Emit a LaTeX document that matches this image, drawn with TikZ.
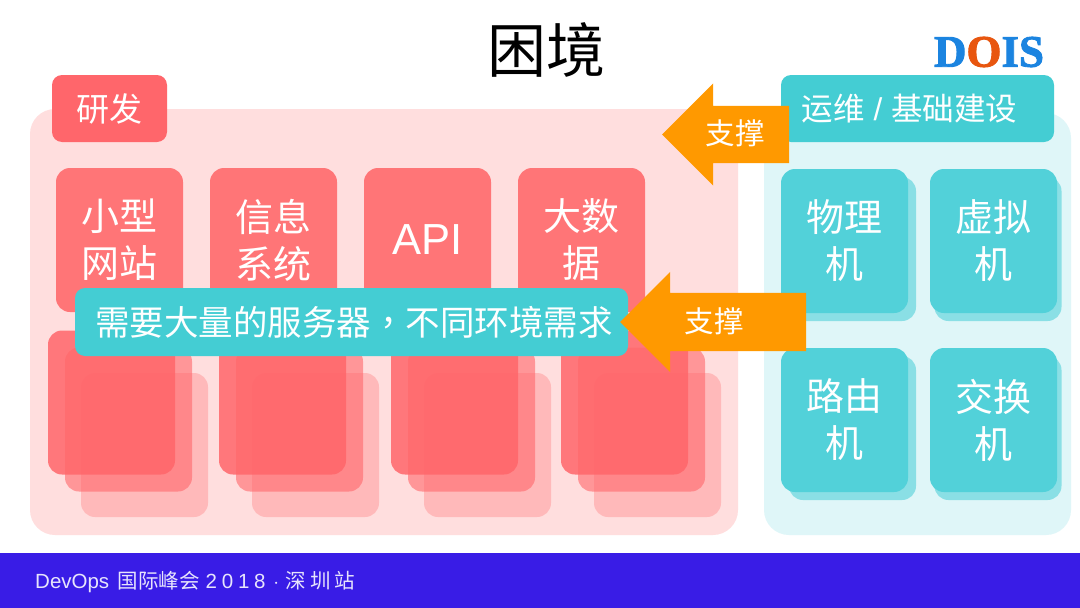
\documentclass[tikz,border=0pt]{standalone}
\usepackage{fontspec}
\setmainfont{Liberation Sans}
\newfontfamily\cjk{Noto Sans CJK SC}
\newfontfamily\cjktc{Noto Sans CJK TC}
\newfontfamily\logofont{Liberation Serif Bold}[FakeBold=2]
\usetikzlibrary{positioning}
\usetikzlibrary{shapes.arrows}

\definecolor{panelRed}{HTML}{FFDEDE}
\definecolor{panelTeal}{HTML}{DFF6F8}
\definecolor{cardRed}{HTML}{FF7577}
\definecolor{labelRed}{HTML}{FF666B}
\definecolor{stackRed}{HTML}{FF666A}
\definecolor{barTeal}{HTML}{44CDD3}
\definecolor{cardTeal}{HTML}{52D1D9}
\definecolor{arrowOrange}{HTML}{FF9900}
\definecolor{footerBlue}{HTML}{391CE6}
\definecolor{logoBlue}{HTML}{1B84E0}
\definecolor{logoOrange}{HTML}{E8560F}

\begin{document}
\begin{tikzpicture}[
  x=1pt, y=-1pt,
  box/.style={rectangle, rounded corners=#1, inner sep=0pt, text=white, align=center},
  box/.default=14pt,
  panelBox/.style 2 args={box=25pt, fill=#1, minimum width=#2},
  cardBox/.style={box, fill=cardRed, minimum width=127pt, minimum height=144pt,
    font=\fontsize{38}{47}\selectfont},
  tealCard/.style={box, fill=cardTeal, minimum width=127pt, minimum height=144pt,
    font=\fontsize{38}{47}\selectfont},
  tealShadow/.style={box, fill=cardTeal, fill opacity=0.6, minimum width=127pt, minimum height=144pt},
  stackBox/.style={box, fill=stackRed, minimum width=127pt, minimum height=144pt},
  supportArrow/.style={single arrow, fill=arrowOrange, inner xsep=0pt, outer sep=0pt,
    shape border rotate=180, single arrow tip angle=90, anchor=tail},
  supportText/.style={text=white, inner sep=0pt, font=\fontsize{29.5}{30}\selectfont\cjk},
]
\useasboundingbox (0,0) rectangle (1080,608);
\fill[white] (0,0) rectangle (1080,608);

% --- Title and logo ---
\node [inner sep=0pt, font=\fontsize{59}{60}\selectfont\cjk] (titleText) at (546,50) {困境};
\node [inner sep=0pt, font=\fontsize{45}{45}\selectfont\logofont] (logoText) at (989,52)
  {\textcolor{logoBlue}{D}\textcolor{logoOrange}{O}\textcolor{logoBlue}{IS}};

% --- Panels ---
\node [panelBox={panelRed}{708pt}, minimum height=426pt] (devPanel) at (384,322) {};
\node [panelBox={panelTeal}{307pt}, minimum height=422pt] (opsPanel) at (917.5,324) {};

\node [box=10pt, fill=labelRed, minimum width=115pt, minimum height=67pt,
  font=\fontsize{33}{33}\selectfont\cjk] (devLabel) at (109.5,108.5) {研发};
\node [box=10pt, fill=barTeal, minimum width=273pt, minimum height=67pt] (opsLabel) at (917.5,108.5) {};
\node [inner sep=0pt, text=white, font=\fontsize{31.5}{33}\selectfont] (opsLabelText) at (909.5,108.5)
  {{\cjk 运维} / {\cjk 基础建设}};

% --- Top row of cards ---
\node [cardBox, font=\fontsize{38}{47}\selectfont\cjk] (cardSite) at (119.5,240) {小型\\网站};
\node [cardBox, font=\fontsize{38}{47}\selectfont\cjk] (cardInfo) at (273.5,240) {信息\\系统};
\node [cardBox, font=\fontsize{43.5}{47}\selectfont] (cardApi) at (427.5,240) {\raisebox{-1.5pt}{API}};
\node [cardBox, font=\fontsize{38}{47}\selectfont\cjk] (cardData) at (581.5,240) {大数\\据};

% --- Server stacks ---
\foreach \idx/\xpos in {1/48,2/219,3/391,4/561} {
  \node [stackBox, fill opacity=0.3] (stackBack\idx) at (\xpos+96.5,445) {};
  \node [stackBox, fill opacity=0.6] (stackMid\idx) at (\xpos+80.5,419.5) {};
  \node [stackBox, fill opacity=0.85] (stackFront\idx) at (\xpos+63.5,402.5) {};
}

\node [box=10pt, fill=barTeal, minimum width=553pt, minimum height=68pt,
  font=\fontsize{34.5}{36}\selectfont\cjk] (needBar) at (351.5,322)
  {\hspace{5pt}需要大量的服务器{\cjktc ，}不同环境需求};

% --- Teal cards ---
\foreach \name/\xpos/\ypos/\off/\txt in {Phys/781/169/8/物理\\机,Virt/930/169/4.5/虚拟\\机,
  Router/781/348/8/路由\\机,Switch/930/348/4.5/交换\\机} {
  \node [tealShadow] (shadow\name) at (\xpos+63.5+\off,\ypos+80) {};
  \node [tealCard, font=\fontsize{38}{47}\selectfont\cjk] (card\name) at (\xpos+63.5,\ypos+72) {\txt};
}

% --- Arrows ---
\node [supportArrow, minimum height=127pt, inner ysep=28.5pt, single arrow head extend=22.5pt]
  (arrowOps) at (789,134.5) {};
\node [supportText] (arrowOpsText) at (735,133) {支撑};
\node [supportArrow, minimum height=186pt, inner ysep=29pt, single arrow head extend=21pt]
  (arrowNeed) at (806,322) {};
\node [supportText] (arrowNeedText) at (714,321) {支撑};

% --- Footer ---
\fill [footerBlue] (0,553) rectangle (1080,608);
\node [anchor=west, inner sep=0pt, text=white!88!footerBlue, font=\fontsize{20.5}{20}\selectfont]
  (footerText) at (35,582.5) {DevOps\hspace{3pt} {\cjk 国际峰会} 2\hspace{4.8pt}0\hspace{4.8pt}1\hspace{4.8pt}8\hspace{2pt} $\cdot$\hspace{1pt} {\cjk 深\hspace{4pt}圳\hspace{4pt}站}};

\end{tikzpicture}
\end{document}
